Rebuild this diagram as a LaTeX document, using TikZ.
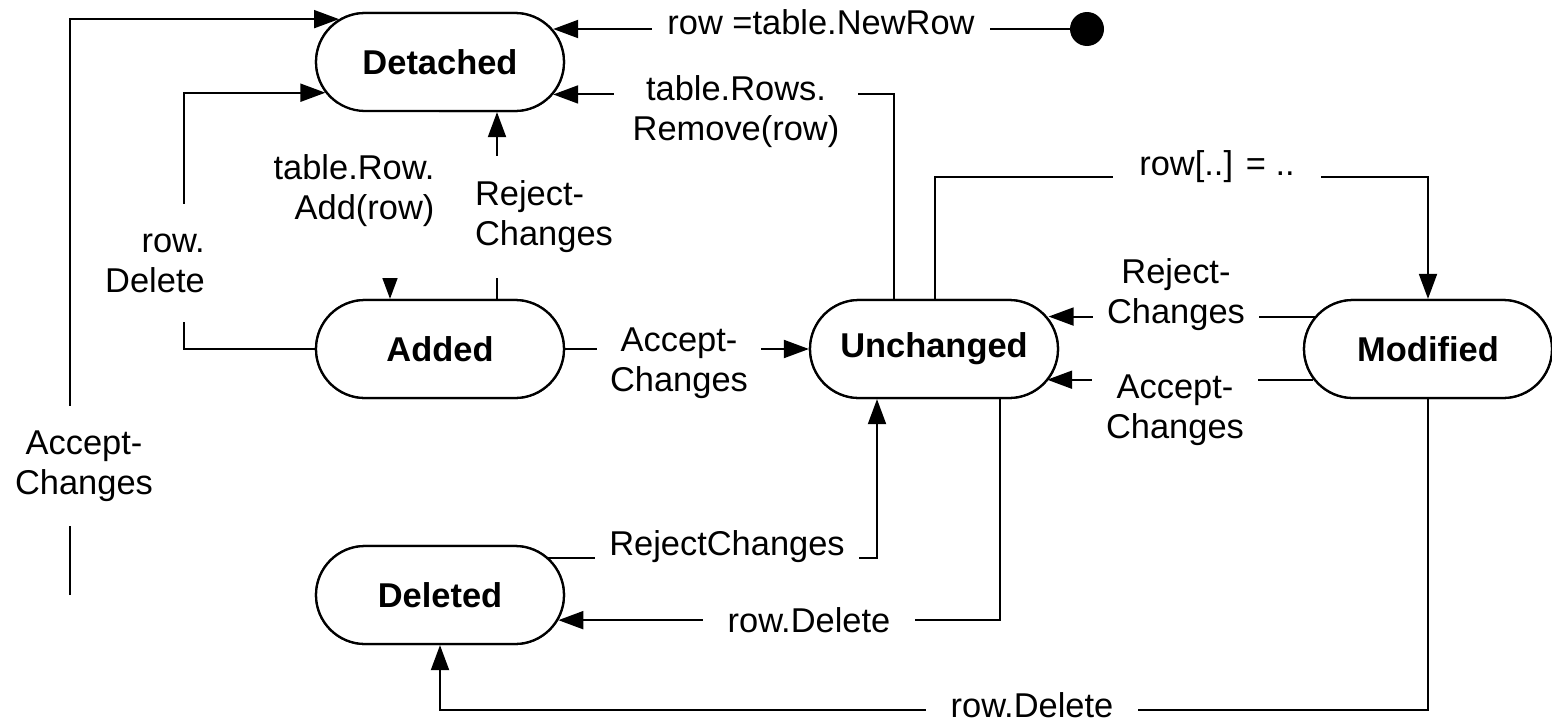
\documentclass[tikz,border=0pt]{standalone}
\usepackage{fontspec}
\setmainfont{Liberation Sans}
\usetikzlibrary{shapes.misc,arrows.meta,calc}
\begin{document}
\begin{tikzpicture}[x=0.02cm,y=-0.02cm,
  every node/.style={font=\fontsize{19.6}{22.8}\selectfont},
  state/.style={rounded rectangle, draw, fill=white, line width=1.3pt,
    minimum width=4.96cm, minimum height=1.96cm, inner sep=0pt, font=\fontsize{19.6}{22.8}\selectfont\bfseries},
  arr/.style={line width=1.1pt, -{Triangle[length=0.5cm,width=0.36cm]}},
  lbl/.style={fill=white, inner xsep=0.28cm, inner ysep=0.06cm, align=center}]
\useasboundingbox (0,0) rectangle (1552,724);

% helper coordinates for free ends and bends
\coordinate (x184) at (184,0);
\coordinate (acc0) at (70,595);
\coordinate (c3) at (935,177);
\coordinate (y710) at (0,710);

% states (positions)
\path (440,62) node[state] (Detached) {Detached};
\path (440,349) node[state] (Added) {Added};
\path (934,349) node[state] (Unchanged) {Unchanged};
\path (1428,349) node[state] (Modified) {Modified};
\path (440,595) node[state] (Deleted) {Deleted};
\node[circle, fill=black, minimum size=0.68cm, inner sep=0pt] (init) at (1087,29) {};

% connectors
\draw[arr] (init.west) -- (init.west -| Detached.16.5);
\draw[arr] ($(Unchanged.north)+(-40,0)$) |- (Detached.344.1);
\draw[arr] (Unchanged.north -| c3) -- (c3) -| (Modified.north);
\draw[arr] (Modified.164.1) -- (Modified.164.1 -| Unchanged.15.9);
\draw[arr] (Modified.195.35) -- (Modified.195.35 -| Unchanged.344.65);
\draw[arr] (Added.east) -- (Unchanged.west);
\draw[arr] ($(Added.north)+(57,0)$) -- ($(Detached.south)+(57,0)$);
\draw[arr] ($(Detached.south)+(-50,0)$) -- ($(Added.north)+(-50,0)$);
\draw[arr] (Added.west) -| (x184 |- Detached.195.9) -- (Detached.195.9);
\draw[arr] (acc0) |- (Detached.157.3);
\draw[arr] (Deleted.19.7) -| ($(Unchanged.south)+(-57,0)$);
\draw[arr] ($(Unchanged.south)+(66,0)$) |- (Deleted.348.5);
\draw[arr] (Modified.south) -- (Modified.south |- y710) -| (Deleted.south);

% labels
\node[lbl, inner xsep=0.3cm] (l1) at (821,22) {row =table.NewRow};
\node[lbl, inner xsep=0.38cm] (l2) at (736,112) {table.Rows.\\Remove(row)};
\node[lbl, inner xsep=0.52cm] (l3) at (1217,167) {row[..] = ..};
\node[lbl] (l4) at (1176,295) {Reject-\\Changes};
\node[lbl] (l5) at (1175,410) {Accept-\\Changes};
\node[lbl, inner xsep=0.26cm] (l6) at (679,363) {Accept-\\Changes};
\node[lbl, align=left, inner xsep=0.1cm, inner ysep=0.5cm] (l7) at (544,217) {Reject-\\Changes};
\node[lbl, align=right, inner xsep=0.1cm, inner ysep=1.02cm] (l8) at (354,191) {table.Row.\\Add(row)};
\node[lbl, align=right, inner xsep=0.1cm, inner ysep=0.6cm] (l9) at (155,263) {row.\\Delete};
\node[lbl, inner xsep=0.1cm, inner ysep=0.5cm] (l10) at (84,466) {Accept-\\Changes};
\node[lbl] (l11) at (727,547) {RejectChanges};
\node[lbl, inner xsep=0.5cm] (l12) at (809,620) {row.Delete};
\node[lbl, inner xsep=0.5cm, inner ysep=0.02cm] (l13) at (1032,705) {row.Delete};

% redraw states on top so label boxes never hide borders
\path (440,62) node[state] {Detached};
\path (440,349) node[state] {Added};
\path (934,349) node[state] {Unchanged};
\path (1428,349) node[state] {Modified};
\path (440,595) node[state] {Deleted};
\end{tikzpicture}
\end{document}
